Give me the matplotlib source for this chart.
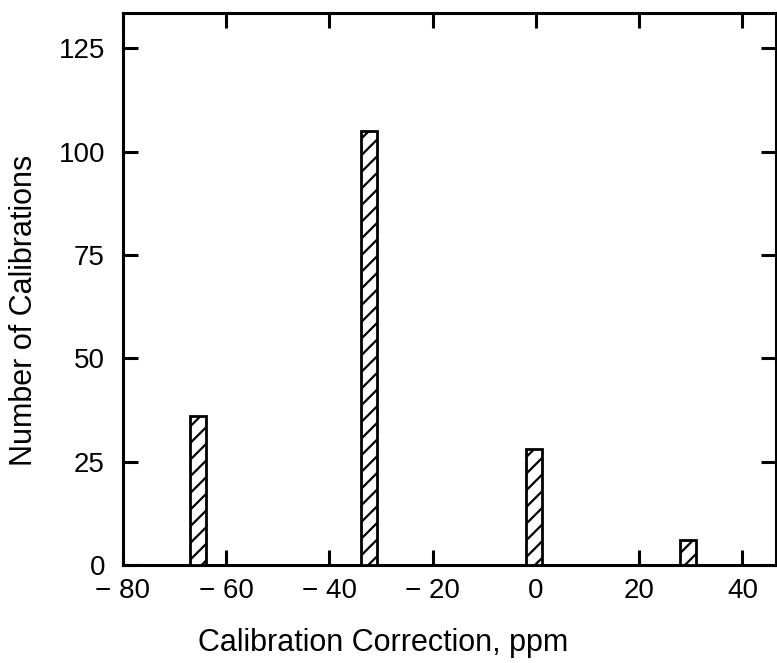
import matplotlib
matplotlib.use("Agg")
import matplotlib.pyplot as plt

# Data
corrections = [-65.5, -32.3, -0.4, 29.5]   # ppm (bar centres)
counts = [36, 105, 28, 6]                  # number of calibrations
bar_width = 3.2

x_ticks = [-80, -60, -40, -20, 0, 20, 40]
x_tick_labels = ["\u2212 80", "\u2212 60", "\u2212 40", "\u2212 20", "0", "20", "40"]
y_ticks = [0, 25, 50, 75, 100, 125]

plt.rcParams['font.family'] = ['Liberation Sans', 'DejaVu Sans']
plt.rcParams['hatch.linewidth'] = 1.6

fig = plt.figure(figsize=(7.77, 6.63), dpi=100)
ax = fig.add_axes([0.1583, 0.1478, 0.9987 - 0.1583, 0.9804 - 0.1478])

ax.bar(corrections, counts, width=bar_width, color='white', edgecolor='black',
       linewidth=2.0, hatch='//', zorder=3)

ax.set_xlim(-80, 46.5)
ax.set_ylim(0, 133.5)
ax.set_xticks(x_ticks)
ax.set_xticklabels(x_tick_labels)
ax.set_yticks(y_ticks)

for s in ax.spines.values():
    s.set_linewidth(2.2)

ax.tick_params(axis='both', direction='in', length=11, width=2.2,
               labelsize=20, top=True, right=True)
ax.tick_params(axis='x', pad=9.5)
ax.tick_params(axis='y', pad=13)

ax.set_xlabel("Calibration Correction, ppm", fontsize=22)
ax.set_ylabel("Number of Calibrations", fontsize=22)
ax.xaxis.set_label_coords(0.398, -0.115)
ax.yaxis.set_label_coords(-0.128, 0.462)

fig.savefig("out.png", dpi=100)
